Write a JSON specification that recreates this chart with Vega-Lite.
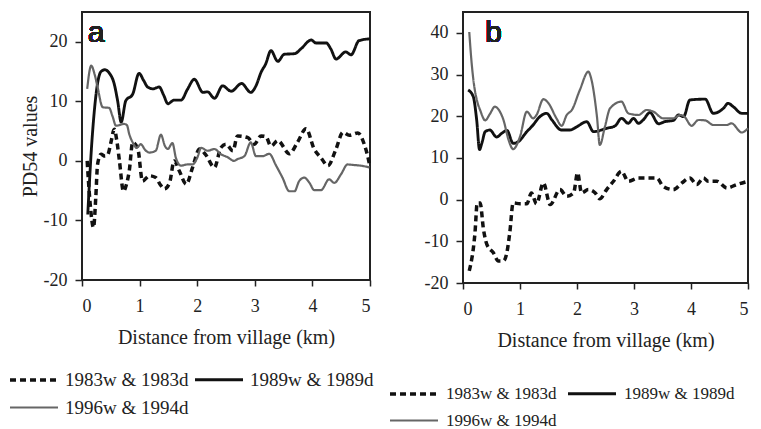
{
  "$schema": "https://vega.github.io/schema/vega-lite/v6.json",
  "padding": {"left": 19, "top": 11, "right": 0, "bottom": 0},
  "background": "white",
  "data": {"values": [
    {"p":"a","s":"1983w & 1983d","d":0.09,"v":0},{"p":"a","s":"1983w & 1983d","d":0.14,"v":-7},{"p":"a","s":"1983w & 1983d","d":0.2,"v":-11.2},{"p":"a","s":"1983w & 1983d","d":0.24,"v":-6},{"p":"a","s":"1983w & 1983d","d":0.27,"v":-0.6},{"p":"a","s":"1983w & 1983d","d":0.33,"v":1.1},{"p":"a","s":"1983w & 1983d","d":0.4,"v":0.8},{"p":"a","s":"1983w & 1983d","d":0.45,"v":1.1},{"p":"a","s":"1983w & 1983d","d":0.5,"v":3},{"p":"a","s":"1983w & 1983d","d":0.56,"v":5.3},{"p":"a","s":"1983w & 1983d","d":0.61,"v":3},{"p":"a","s":"1983w & 1983d","d":0.65,"v":0},{"p":"a","s":"1983w & 1983d","d":0.72,"v":-5.1},{"p":"a","s":"1983w & 1983d","d":0.77,"v":-4},{"p":"a","s":"1983w & 1983d","d":0.82,"v":-1.7},{"p":"a","s":"1983w & 1983d","d":0.88,"v":3.1},{"p":"a","s":"1983w & 1983d","d":0.97,"v":2},{"p":"a","s":"1983w & 1983d","d":1.05,"v":-3.4},{"p":"a","s":"1983w & 1983d","d":1.17,"v":-2.5},{"p":"a","s":"1983w & 1983d","d":1.28,"v":-2.8},{"p":"a","s":"1983w & 1983d","d":1.36,"v":-4},{"p":"a","s":"1983w & 1983d","d":1.43,"v":-4.7},{"p":"a","s":"1983w & 1983d","d":1.52,"v":-3.7},{"p":"a","s":"1983w & 1983d","d":1.6,"v":0},{"p":"a","s":"1983w & 1983d","d":1.69,"v":-1.7},{"p":"a","s":"1983w & 1983d","d":1.81,"v":-3.9},{"p":"a","s":"1983w & 1983d","d":1.92,"v":-1.1},{"p":"a","s":"1983w & 1983d","d":2.04,"v":2},{"p":"a","s":"1983w & 1983d","d":2.15,"v":1},{"p":"a","s":"1983w & 1983d","d":2.3,"v":-1.1},{"p":"a","s":"1983w & 1983d","d":2.41,"v":2.2},{"p":"a","s":"1983w & 1983d","d":2.5,"v":2.8},{"p":"a","s":"1983w & 1983d","d":2.62,"v":1.7},{"p":"a","s":"1983w & 1983d","d":2.7,"v":4.2},{"p":"a","s":"1983w & 1983d","d":2.88,"v":3.9},{"p":"a","s":"1983w & 1983d","d":2.99,"v":2.8},{"p":"a","s":"1983w & 1983d","d":3.11,"v":4.2},{"p":"a","s":"1983w & 1983d","d":3.19,"v":4.1},{"p":"a","s":"1983w & 1983d","d":3.28,"v":2.5},{"p":"a","s":"1983w & 1983d","d":3.4,"v":3.4},{"p":"a","s":"1983w & 1983d","d":3.6,"v":1.2},{"p":"a","s":"1983w & 1983d","d":3.74,"v":3.1},{"p":"a","s":"1983w & 1983d","d":3.89,"v":5.4},{"p":"a","s":"1983w & 1983d","d":4.03,"v":2},{"p":"a","s":"1983w & 1983d","d":4.15,"v":0.5},{"p":"a","s":"1983w & 1983d","d":4.27,"v":-0.8},{"p":"a","s":"1983w & 1983d","d":4.41,"v":2},{"p":"a","s":"1983w & 1983d","d":4.53,"v":4.8},{"p":"a","s":"1983w & 1983d","d":4.64,"v":4.3},{"p":"a","s":"1983w & 1983d","d":4.79,"v":4.7},{"p":"a","s":"1983w & 1983d","d":4.9,"v":2.8},{"p":"a","s":"1983w & 1983d","d":4.96,"v":0.8},{"p":"a","s":"1983w & 1983d","d":5.0,"v":-1},
    {"p":"a","s":"1989w & 1989d","d":0.1,"v":-9},{"p":"a","s":"1989w & 1989d","d":0.17,"v":3},{"p":"a","s":"1989w & 1989d","d":0.22,"v":9},{"p":"a","s":"1989w & 1989d","d":0.27,"v":13},{"p":"a","s":"1989w & 1989d","d":0.33,"v":15},{"p":"a","s":"1989w & 1989d","d":0.4,"v":15.3},{"p":"a","s":"1989w & 1989d","d":0.47,"v":14.8},{"p":"a","s":"1989w & 1989d","d":0.56,"v":12.9},{"p":"a","s":"1989w & 1989d","d":0.62,"v":10},{"p":"a","s":"1989w & 1989d","d":0.68,"v":6.5},{"p":"a","s":"1989w & 1989d","d":0.76,"v":10.1},{"p":"a","s":"1989w & 1989d","d":0.88,"v":11.2},{"p":"a","s":"1989w & 1989d","d":0.99,"v":14.7},{"p":"a","s":"1989w & 1989d","d":1.07,"v":13.5},{"p":"a","s":"1989w & 1989d","d":1.14,"v":12.4},{"p":"a","s":"1989w & 1989d","d":1.23,"v":12.1},{"p":"a","s":"1989w & 1989d","d":1.34,"v":12.4},{"p":"a","s":"1989w & 1989d","d":1.42,"v":11},{"p":"a","s":"1989w & 1989d","d":1.49,"v":9.6},{"p":"a","s":"1989w & 1989d","d":1.6,"v":10.2},{"p":"a","s":"1989w & 1989d","d":1.72,"v":10.2},{"p":"a","s":"1989w & 1989d","d":1.83,"v":12},{"p":"a","s":"1989w & 1989d","d":1.95,"v":13.7},{"p":"a","s":"1989w & 1989d","d":2.1,"v":11.5},{"p":"a","s":"1989w & 1989d","d":2.18,"v":11.6},{"p":"a","s":"1989w & 1989d","d":2.3,"v":10.5},{"p":"a","s":"1989w & 1989d","d":2.44,"v":12.6},{"p":"a","s":"1989w & 1989d","d":2.59,"v":11.7},{"p":"a","s":"1989w & 1989d","d":2.77,"v":13},{"p":"a","s":"1989w & 1989d","d":2.93,"v":11.5},{"p":"a","s":"1989w & 1989d","d":3.02,"v":12.6},{"p":"a","s":"1989w & 1989d","d":3.11,"v":14.9},{"p":"a","s":"1989w & 1989d","d":3.19,"v":16.3},{"p":"a","s":"1989w & 1989d","d":3.28,"v":18.5},{"p":"a","s":"1989w & 1989d","d":3.4,"v":16.7},{"p":"a","s":"1989w & 1989d","d":3.51,"v":17.9},{"p":"a","s":"1989w & 1989d","d":3.69,"v":18},{"p":"a","s":"1989w & 1989d","d":3.8,"v":18.8},{"p":"a","s":"1989w & 1989d","d":3.98,"v":20.3},{"p":"a","s":"1989w & 1989d","d":4.06,"v":19.8},{"p":"a","s":"1989w & 1989d","d":4.24,"v":19.8},{"p":"a","s":"1989w & 1989d","d":4.32,"v":18.8},{"p":"a","s":"1989w & 1989d","d":4.41,"v":17.1},{"p":"a","s":"1989w & 1989d","d":4.58,"v":18.3},{"p":"a","s":"1989w & 1989d","d":4.67,"v":17.8},{"p":"a","s":"1989w & 1989d","d":4.81,"v":20.2},{"p":"a","s":"1989w & 1989d","d":5.0,"v":20.5},
    {"p":"a","s":"1996w & 1994d","d":0.09,"v":12.1},{"p":"a","s":"1996w & 1994d","d":0.16,"v":16},{"p":"a","s":"1996w & 1994d","d":0.22,"v":14.5},{"p":"a","s":"1996w & 1994d","d":0.27,"v":12.4},{"p":"a","s":"1996w & 1994d","d":0.36,"v":9},{"p":"a","s":"1996w & 1994d","d":0.47,"v":8.9},{"p":"a","s":"1996w & 1994d","d":0.53,"v":7.5},{"p":"a","s":"1996w & 1994d","d":0.59,"v":5.9},{"p":"a","s":"1996w & 1994d","d":0.73,"v":6.2},{"p":"a","s":"1996w & 1994d","d":0.78,"v":6},{"p":"a","s":"1996w & 1994d","d":0.82,"v":4.5},{"p":"a","s":"1996w & 1994d","d":0.88,"v":3.1},{"p":"a","s":"1996w & 1994d","d":0.95,"v":2.2},{"p":"a","s":"1996w & 1994d","d":1.02,"v":2.8},{"p":"a","s":"1996w & 1994d","d":1.1,"v":1.8},{"p":"a","s":"1996w & 1994d","d":1.17,"v":1.4},{"p":"a","s":"1996w & 1994d","d":1.28,"v":1.7},{"p":"a","s":"1996w & 1994d","d":1.37,"v":4.4},{"p":"a","s":"1996w & 1994d","d":1.44,"v":2.5},{"p":"a","s":"1996w & 1994d","d":1.49,"v":2},{"p":"a","s":"1996w & 1994d","d":1.57,"v":3},{"p":"a","s":"1996w & 1994d","d":1.63,"v":0.5},{"p":"a","s":"1996w & 1994d","d":1.72,"v":-0.8},{"p":"a","s":"1996w & 1994d","d":1.83,"v":-0.6},{"p":"a","s":"1996w & 1994d","d":1.92,"v":-0.6},{"p":"a","s":"1996w & 1994d","d":2.0,"v":0.5},{"p":"a","s":"1996w & 1994d","d":2.07,"v":2.2},{"p":"a","s":"1996w & 1994d","d":2.18,"v":1.7},{"p":"a","s":"1996w & 1994d","d":2.3,"v":2},{"p":"a","s":"1996w & 1994d","d":2.4,"v":1.2},{"p":"a","s":"1996w & 1994d","d":2.53,"v":0.6},{"p":"a","s":"1996w & 1994d","d":2.64,"v":0},{"p":"a","s":"1996w & 1994d","d":2.7,"v":0.3},{"p":"a","s":"1996w & 1994d","d":2.82,"v":0.8},{"p":"a","s":"1996w & 1994d","d":2.93,"v":3.1},{"p":"a","s":"1996w & 1994d","d":3.02,"v":0.8},{"p":"a","s":"1996w & 1994d","d":3.14,"v":0.8},{"p":"a","s":"1996w & 1994d","d":3.25,"v":1.2},{"p":"a","s":"1996w & 1994d","d":3.37,"v":-0.8},{"p":"a","s":"1996w & 1994d","d":3.48,"v":-2.8},{"p":"a","s":"1996w & 1994d","d":3.6,"v":-5.1},{"p":"a","s":"1996w & 1994d","d":3.69,"v":-5.1},{"p":"a","s":"1996w & 1994d","d":3.77,"v":-3.4},{"p":"a","s":"1996w & 1994d","d":3.86,"v":-2.8},{"p":"a","s":"1996w & 1994d","d":3.95,"v":-3.7},{"p":"a","s":"1996w & 1994d","d":4.03,"v":-4.9},{"p":"a","s":"1996w & 1994d","d":4.15,"v":-4.9},{"p":"a","s":"1996w & 1994d","d":4.29,"v":-3.1},{"p":"a","s":"1996w & 1994d","d":4.38,"v":-3.7},{"p":"a","s":"1996w & 1994d","d":4.5,"v":-2.2},{"p":"a","s":"1996w & 1994d","d":4.61,"v":-0.6},{"p":"a","s":"1996w & 1994d","d":4.73,"v":-0.7},{"p":"a","s":"1996w & 1994d","d":4.84,"v":-0.8},{"p":"a","s":"1996w & 1994d","d":4.99,"v":-1.1},
    {"p":"b","s":"1983w & 1983d","d":0.11,"v":-17.1},{"p":"b","s":"1983w & 1983d","d":0.21,"v":-8},{"p":"b","s":"1983w & 1983d","d":0.25,"v":-0.8},{"p":"b","s":"1983w & 1983d","d":0.3,"v":-0.8},{"p":"b","s":"1983w & 1983d","d":0.36,"v":-7.2},{"p":"b","s":"1983w & 1983d","d":0.42,"v":-10.8},{"p":"b","s":"1983w & 1983d","d":0.53,"v":-12.7},{"p":"b","s":"1983w & 1983d","d":0.62,"v":-14.7},{"p":"b","s":"1983w & 1983d","d":0.71,"v":-14.7},{"p":"b","s":"1983w & 1983d","d":0.77,"v":-12.7},{"p":"b","s":"1983w & 1983d","d":0.82,"v":-8},{"p":"b","s":"1983w & 1983d","d":0.88,"v":-0.8},{"p":"b","s":"1983w & 1983d","d":1.0,"v":-1},{"p":"b","s":"1983w & 1983d","d":1.12,"v":-1},{"p":"b","s":"1983w & 1983d","d":1.2,"v":1.6},{"p":"b","s":"1983w & 1983d","d":1.29,"v":-1},{"p":"b","s":"1983w & 1983d","d":1.41,"v":4},{"p":"b","s":"1983w & 1983d","d":1.53,"v":-1.2},{"p":"b","s":"1983w & 1983d","d":1.7,"v":2.4},{"p":"b","s":"1983w & 1983d","d":1.82,"v":0.8},{"p":"b","s":"1983w & 1983d","d":1.94,"v":1.6},{"p":"b","s":"1983w & 1983d","d":2.01,"v":6.4},{"p":"b","s":"1983w & 1983d","d":2.08,"v":1.6},{"p":"b","s":"1983w & 1983d","d":2.2,"v":2.4},{"p":"b","s":"1983w & 1983d","d":2.32,"v":1.6},{"p":"b","s":"1983w & 1983d","d":2.4,"v":0.2},{"p":"b","s":"1983w & 1983d","d":2.52,"v":2.4},{"p":"b","s":"1983w & 1983d","d":2.64,"v":4.4},{"p":"b","s":"1983w & 1983d","d":2.78,"v":6.8},{"p":"b","s":"1983w & 1983d","d":2.9,"v":4.4},{"p":"b","s":"1983w & 1983d","d":3.08,"v":5.2},{"p":"b","s":"1983w & 1983d","d":3.4,"v":5.2},{"p":"b","s":"1983w & 1983d","d":3.51,"v":3.2},{"p":"b","s":"1983w & 1983d","d":3.69,"v":2.4},{"p":"b","s":"1983w & 1983d","d":3.84,"v":4},{"p":"b","s":"1983w & 1983d","d":3.98,"v":5.2},{"p":"b","s":"1983w & 1983d","d":4.1,"v":3.6},{"p":"b","s":"1983w & 1983d","d":4.22,"v":5.2},{"p":"b","s":"1983w & 1983d","d":4.3,"v":4.4},{"p":"b","s":"1983w & 1983d","d":4.45,"v":4.4},{"p":"b","s":"1983w & 1983d","d":4.63,"v":2.8},{"p":"b","s":"1983w & 1983d","d":4.8,"v":3.6},{"p":"b","s":"1983w & 1983d","d":5.0,"v":4.4},
    {"p":"b","s":"1989w & 1989d","d":0.09,"v":26.3},{"p":"b","s":"1989w & 1989d","d":0.18,"v":24.7},{"p":"b","s":"1989w & 1989d","d":0.24,"v":19.1},{"p":"b","s":"1989w & 1989d","d":0.29,"v":12},{"p":"b","s":"1989w & 1989d","d":0.33,"v":13.5},{"p":"b","s":"1989w & 1989d","d":0.39,"v":16.3},{"p":"b","s":"1989w & 1989d","d":0.47,"v":16.7},{"p":"b","s":"1989w & 1989d","d":0.59,"v":15},{"p":"b","s":"1989w & 1989d","d":0.68,"v":15.9},{"p":"b","s":"1989w & 1989d","d":0.77,"v":16.6},{"p":"b","s":"1989w & 1989d","d":0.88,"v":13.5},{"p":"b","s":"1989w & 1989d","d":0.97,"v":13.9},{"p":"b","s":"1989w & 1989d","d":1.12,"v":16.3},{"p":"b","s":"1989w & 1989d","d":1.23,"v":17.9},{"p":"b","s":"1989w & 1989d","d":1.32,"v":19.5},{"p":"b","s":"1989w & 1989d","d":1.47,"v":20.7},{"p":"b","s":"1989w & 1989d","d":1.56,"v":19.1},{"p":"b","s":"1989w & 1989d","d":1.73,"v":16.7},{"p":"b","s":"1989w & 1989d","d":1.88,"v":16.7},{"p":"b","s":"1989w & 1989d","d":2.0,"v":17.5},{"p":"b","s":"1989w & 1989d","d":2.17,"v":18.7},{"p":"b","s":"1989w & 1989d","d":2.29,"v":16.3},{"p":"b","s":"1989w & 1989d","d":2.52,"v":17.1},{"p":"b","s":"1989w & 1989d","d":2.67,"v":17.7},{"p":"b","s":"1989w & 1989d","d":2.78,"v":19.5},{"p":"b","s":"1989w & 1989d","d":2.9,"v":18.3},{"p":"b","s":"1989w & 1989d","d":2.99,"v":19.5},{"p":"b","s":"1989w & 1989d","d":3.08,"v":18.3},{"p":"b","s":"1989w & 1989d","d":3.16,"v":19.1},{"p":"b","s":"1989w & 1989d","d":3.28,"v":20.9},{"p":"b","s":"1989w & 1989d","d":3.43,"v":18.2},{"p":"b","s":"1989w & 1989d","d":3.54,"v":18.7},{"p":"b","s":"1989w & 1989d","d":3.69,"v":19},{"p":"b","s":"1989w & 1989d","d":3.78,"v":20.3},{"p":"b","s":"1989w & 1989d","d":3.87,"v":19.9},{"p":"b","s":"1989w & 1989d","d":3.98,"v":23.9},{"p":"b","s":"1989w & 1989d","d":4.25,"v":24.1},{"p":"b","s":"1989w & 1989d","d":4.39,"v":20.7},{"p":"b","s":"1989w & 1989d","d":4.57,"v":21.9},{"p":"b","s":"1989w & 1989d","d":4.65,"v":23.1},{"p":"b","s":"1989w & 1989d","d":4.74,"v":22.3},{"p":"b","s":"1989w & 1989d","d":4.89,"v":20.7},{"p":"b","s":"1989w & 1989d","d":5.0,"v":20.7},
    {"p":"b","s":"1996w & 1994d","d":0.11,"v":40.2},{"p":"b","s":"1996w & 1994d","d":0.15,"v":33},{"p":"b","s":"1996w & 1994d","d":0.19,"v":27.9},{"p":"b","s":"1996w & 1994d","d":0.25,"v":23.5},{"p":"b","s":"1996w & 1994d","d":0.3,"v":21.5},{"p":"b","s":"1996w & 1994d","d":0.39,"v":19},{"p":"b","s":"1996w & 1994d","d":0.47,"v":20.5},{"p":"b","s":"1996w & 1994d","d":0.56,"v":22.3},{"p":"b","s":"1996w & 1994d","d":0.63,"v":21.5},{"p":"b","s":"1996w & 1994d","d":0.71,"v":19.1},{"p":"b","s":"1996w & 1994d","d":0.8,"v":14.3},{"p":"b","s":"1996w & 1994d","d":0.88,"v":12.1},{"p":"b","s":"1996w & 1994d","d":1.0,"v":15.1},{"p":"b","s":"1996w & 1994d","d":1.12,"v":21.1},{"p":"b","s":"1996w & 1994d","d":1.23,"v":19.5},{"p":"b","s":"1996w & 1994d","d":1.29,"v":20.3},{"p":"b","s":"1996w & 1994d","d":1.41,"v":24.1},{"p":"b","s":"1996w & 1994d","d":1.5,"v":23.1},{"p":"b","s":"1996w & 1994d","d":1.64,"v":19.5},{"p":"b","s":"1996w & 1994d","d":1.73,"v":17.7},{"p":"b","s":"1996w & 1994d","d":1.82,"v":20.3},{"p":"b","s":"1996w & 1994d","d":1.91,"v":21.5},{"p":"b","s":"1996w & 1994d","d":2.05,"v":26.3},{"p":"b","s":"1996w & 1994d","d":2.2,"v":30.7},{"p":"b","s":"1996w & 1994d","d":2.24,"v":29.5},{"p":"b","s":"1996w & 1994d","d":2.35,"v":19.9},{"p":"b","s":"1996w & 1994d","d":2.4,"v":13.1},{"p":"b","s":"1996w & 1994d","d":2.49,"v":17.5},{"p":"b","s":"1996w & 1994d","d":2.58,"v":21.9},{"p":"b","s":"1996w & 1994d","d":2.78,"v":23.5},{"p":"b","s":"1996w & 1994d","d":2.9,"v":20.7},{"p":"b","s":"1996w & 1994d","d":3.08,"v":20.3},{"p":"b","s":"1996w & 1994d","d":3.22,"v":21.5},{"p":"b","s":"1996w & 1994d","d":3.34,"v":21.1},{"p":"b","s":"1996w & 1994d","d":3.51,"v":19.5},{"p":"b","s":"1996w & 1994d","d":3.69,"v":19.5},{"p":"b","s":"1996w & 1994d","d":3.81,"v":20.3},{"p":"b","s":"1996w & 1994d","d":3.89,"v":19.8},{"p":"b","s":"1996w & 1994d","d":4.01,"v":17.7},{"p":"b","s":"1996w & 1994d","d":4.13,"v":19.1},{"p":"b","s":"1996w & 1994d","d":4.25,"v":19},{"p":"b","s":"1996w & 1994d","d":4.39,"v":17.9},{"p":"b","s":"1996w & 1994d","d":4.63,"v":17.9},{"p":"b","s":"1996w & 1994d","d":4.71,"v":18.3},{"p":"b","s":"1996w & 1994d","d":4.89,"v":16.1},{"p":"b","s":"1996w & 1994d","d":5.0,"v":17.1}
  ]},
  "resolve": {"scale": {"x": "independent", "y": "independent", "color": "independent", "strokeDash": "independent", "strokeWidth": "independent"}, "legend": {"color": "independent", "strokeDash": "independent", "strokeWidth": "independent"}},
  "spacing": 21,
  "hconcat": [
    {
      "width": 288,
      "height": 268,
      "transform": [{"filter": "datum.p === 'a'"}],
      "layer": [
        {
          "mark": {"type": "line", "interpolate": "monotone"},
          "encoding": {
            "x": {"field": "d", "type": "quantitative", "scale": {"domain": [0, 5], "nice": false}, "axis": {"values": [0,1,2,3,4,5], "labelExpr": "datum.value < 0 ? '-' + abs(datum.value) : '' + datum.value", "title": "Distance from village (km)", "titlePadding": 12}},
            "y": {"field": "v", "type": "quantitative", "scale": {"domain": [-20, 25], "nice": false}, "axis": {"values": [-20,-10,0,10,20], "labelExpr": "datum.value < 0 ? '-' + abs(datum.value) : '' + datum.value", "title": "PD54 values", "titlePadding": 3}},
            "color": {"field": "s", "type": "nominal", "scale": {"domain": ["1983w & 1983d","1989w & 1989d","1996w & 1994d"], "range": ["#111111","#111111","#666666"]}, "legend": {"orient": "none", "legendX": -62, "legendY": 354, "direction": "horizontal", "columns": 2, "title": null, "symbolType": "M-2,0H2", "symbolSize": 576, "labelFont": "Liberation Serif", "labelFontSize": 19, "labelColor": "#222", "labelOffset": 17, "columnPadding": 0, "rowPadding": 4, "padding": 0, "labelLimit": 300}},
            "strokeDash": {"field": "s", "type": "nominal", "scale": {"domain": ["1983w & 1983d","1989w & 1989d","1996w & 1994d"], "range": [[6,4],[1,0],[1,0]]}, "legend": {"orient": "none", "legendX": -62, "legendY": 354, "direction": "horizontal", "columns": 2, "title": null, "symbolType": "M-2,0H2", "symbolSize": 576, "labelFont": "Liberation Serif", "labelFontSize": 19, "labelColor": "#222", "labelOffset": 17, "columnPadding": 0, "rowPadding": 4, "padding": 0, "labelLimit": 300}},
            "strokeWidth": {"field": "s", "type": "nominal", "scale": {"domain": ["1983w & 1983d","1989w & 1989d","1996w & 1994d"], "range": [3.5, 2.2, 0.8]}, "legend": {"orient": "none", "legendX": -62, "legendY": 354, "direction": "horizontal", "columns": 2, "title": null, "symbolType": "M-2,0H2", "symbolSize": 576, "labelFont": "Liberation Serif", "labelFontSize": 19, "labelColor": "#222", "labelOffset": 17, "columnPadding": 0, "rowPadding": 4, "padding": 0, "labelLimit": 300}}
          }
        },
        {
          "mark": {"type": "text", "text": "a", "font": "Liberation Sans", "fontSize": 30, "align": "left", "baseline": "alphabetic", "color": "#222"},
          "encoding": {"x": {"datum": 0.1}, "y": {"datum": 19.9}}
        }
      ]
    },
    {
      "width": 285,
      "height": 271,
      "transform": [{"filter": "datum.p === 'b'"}],
      "layer": [
        {
          "mark": {"type": "line", "interpolate": "monotone"},
          "encoding": {
            "x": {"field": "d", "type": "quantitative", "scale": {"domain": [0, 5], "nice": false}, "axis": {"values": [0,1,2,3,4,5], "labelExpr": "datum.value < 0 ? '-' + abs(datum.value) : '' + datum.value", "title": "Distance from village (km)", "titlePadding": 12}},
            "y": {"field": "v", "type": "quantitative", "scale": {"domain": [-20, 45], "nice": false}, "axis": {"values": [-20,-10,0,10,20,30,40], "labelExpr": "datum.value < 0 ? '-' + abs(datum.value) : '' + datum.value", "title": null}},
            "color": {"field": "s", "type": "nominal", "scale": {"domain": ["1983w & 1983d","1989w & 1989d","1996w & 1994d"], "range": ["#111111","#111111","#666666"]}, "legend": {"orient": "none", "legendX": -63, "legendY": 368, "direction": "horizontal", "columns": 2, "title": null, "symbolType": "M-2,0H2", "symbolSize": 576, "labelFont": "Liberation Serif", "labelFontSize": 17, "labelColor": "#222", "labelOffset": 18, "columnPadding": 5, "rowPadding": 5, "padding": 0, "labelLimit": 300}},
            "strokeDash": {"field": "s", "type": "nominal", "scale": {"domain": ["1983w & 1983d","1989w & 1989d","1996w & 1994d"], "range": [[6,4],[1,0],[1,0]]}, "legend": {"orient": "none", "legendX": -63, "legendY": 368, "direction": "horizontal", "columns": 2, "title": null, "symbolType": "M-2,0H2", "symbolSize": 576, "labelFont": "Liberation Serif", "labelFontSize": 17, "labelColor": "#222", "labelOffset": 18, "columnPadding": 5, "rowPadding": 5, "padding": 0, "labelLimit": 300}},
            "strokeWidth": {"field": "s", "type": "nominal", "scale": {"domain": ["1983w & 1983d","1989w & 1989d","1996w & 1994d"], "range": [3.5, 2.2, 0.8]}, "legend": {"orient": "none", "legendX": -63, "legendY": 368, "direction": "horizontal", "columns": 2, "title": null, "symbolType": "M-2,0H2", "symbolSize": 576, "labelFont": "Liberation Serif", "labelFontSize": 17, "labelColor": "#222", "labelOffset": 18, "columnPadding": 5, "rowPadding": 5, "padding": 0, "labelLimit": 300}}
          }
        },
        {
          "mark": {"type": "text", "text": "b", "font": "Liberation Sans", "fontSize": 30, "align": "left", "baseline": "alphabetic", "color": "#222"},
          "encoding": {"x": {"datum": 0.39}, "y": {"datum": 37.7}}
        }
      ]
    }
  ],
  "config": {
    "view": {"stroke": "#222", "strokeWidth": 2},
    "axis": {"domain": false, "grid": false, "tickColor": "#222", "tickWidth": 1.5, "tickSize": 7, "labelFont": "Liberation Serif", "labelFontSize": 18, "labelColor": "#222", "labelPadding": 8, "titleFont": "Liberation Serif", "titleFontSize": 20, "titleFontWeight": "normal", "titleColor": "#222"},
    "axisX": {"tickSize": 6, "labelPadding": 11}
  }
}
